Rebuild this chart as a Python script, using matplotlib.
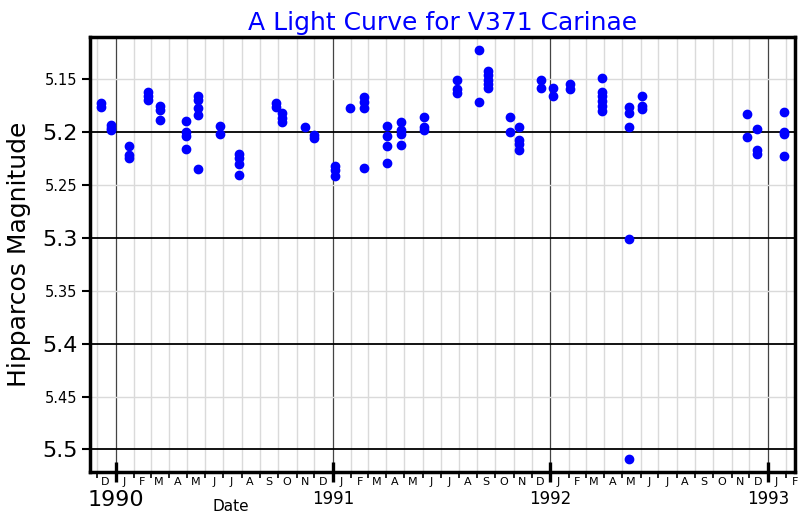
import datetime as dt
import matplotlib
matplotlib.use('Agg')
from matplotlib import pyplot as plt
import matplotlib.dates as mdates
from matplotlib.ticker import MultipleLocator, FormatStrFormatter, FuncFormatter

# observation epochs and the magnitudes measured at each one
epochs = ['1989-12-07', '1989-12-24', '1990-01-23', '1990-02-24', '1990-03-17',
          '1990-04-29', '1990-05-20', '1990-06-26', '1990-07-27', '1990-09-27',
          '1990-10-08', '1990-11-16', '1990-12-01', '1991-01-04', '1991-01-29',
          '1991-02-23', '1991-04-02', '1991-04-25', '1991-06-04', '1991-07-29',
          '1991-09-03', '1991-09-19', '1991-10-26', '1991-11-09', '1991-12-16',
          '1992-01-06', '1992-02-04', '1992-03-29', '1992-05-12', '1992-06-04',
          '1992-11-27', '1992-12-14', '1993-01-28']
mags = [[5.173, 5.176], [5.193, 5.196, 5.198], [5.213, 5.222, 5.225],
        [5.162, 5.166, 5.170], [5.175, 5.179, 5.189], [5.190, 5.200, 5.204, 5.216],
        [5.166, 5.170, 5.177, 5.184, 5.235], [5.194, 5.202], [5.221, 5.225, 5.230, 5.241],
        [5.173, 5.176], [5.182, 5.187, 5.191], [5.195], [5.203, 5.206],
        [5.232, 5.236, 5.242], [5.177], [5.167, 5.172, 5.177, 5.234],
        [5.194, 5.204, 5.213, 5.229], [5.191, 5.198, 5.202, 5.212], [5.186, 5.195, 5.198],
        [5.151, 5.159, 5.163], [5.123, 5.172], [5.142, 5.146, 5.151, 5.155, 5.158],
        [5.186, 5.200], [5.195, 5.208, 5.211, 5.217], [5.151, 5.158], [5.158, 5.166],
        [5.155, 5.159], [5.149, 5.162, 5.166, 5.171, 5.175, 5.180],
        [5.176, 5.182, 5.195, 5.301, 5.509], [5.166, 5.175, 5.178],
        [5.183, 5.205], [5.197, 5.217, 5.221], [5.181, 5.200, 5.202, 5.223]]

years = [1990, 1991, 1992, 1993]

x = []
y = []
for d, ms in zip(epochs, mags):
    for m in ms:
        x.append(dt.datetime.strptime(d, '%Y-%m-%d'))
        y.append(m)

fig = plt.figure(figsize=(8, 5.2), dpi=100)
ax = fig.add_axes([0.1125, 0.0929, 0.88125, 0.8365])

ax.plot(x, y, 'o', color='blue', markersize=6, zorder=3)

ax.set_xlim(dt.datetime(1989, 11, 19), dt.datetime(1993, 2, 15, 12))
ax.set_ylim(5.521, 5.110)

# years
ax.set_xticks([dt.datetime(yr, 1, 1) for yr in years], labels=[str(yr) for yr in years])
ax.xaxis.set_minor_locator(mdates.MonthLocator(bymonthday=1))
ax.tick_params(axis='x', which='major', direction='inout', length=14, width=2.4,
               pad=6.5, labelsize=12)
ax.tick_params(axis='x', which='minor', direction='out', length=4, width=1.2)
ax.get_xticklabels()[0].set_fontsize(16)

# month letters in the middle of each month
sec = ax.secondary_xaxis('bottom')
sec.xaxis.set_major_locator(mdates.MonthLocator(bymonthday=15))
sec.xaxis.set_major_formatter(FuncFormatter(lambda v, p: mdates.num2date(v).strftime('%b')[0]))
sec.tick_params(length=0, pad=4, labelsize=8)
sec.spines['bottom'].set_visible(False)

ax.yaxis.set_major_locator(MultipleLocator(0.1))
ax.yaxis.set_minor_locator(MultipleLocator(0.05))
ax.yaxis.set_major_formatter(FormatStrFormatter('%g'))
ax.yaxis.set_minor_formatter(FormatStrFormatter('%.2f'))
ax.tick_params(axis='y', which='major', direction='out', length=6, width=1.5, pad=3, labelsize=16)
ax.tick_params(axis='y', which='minor', direction='out', length=6, width=1.5, pad=3, labelsize=10.5)

ax.set_axisbelow(True)
ax.grid(which='minor', color='#dadada', lw=1)
ax.grid(which='major', axis='y', color='black', lw=1.3)
ax.grid(which='major', axis='x', color='#444444', lw=0.9)

for s in ax.spines.values():
    s.set_linewidth(2.5)

ax.set_title('A Light Curve for V371 Carinae', color='blue', fontsize=18, pad=5)
ax.set_ylabel('Hipparcos Magnitude', fontsize=18, labelpad=8)
ax.set_xlabel('Date', fontsize=11)
ax.xaxis.set_label_coords(0.2, -0.063)

fig.savefig('out.png', dpi=100)
